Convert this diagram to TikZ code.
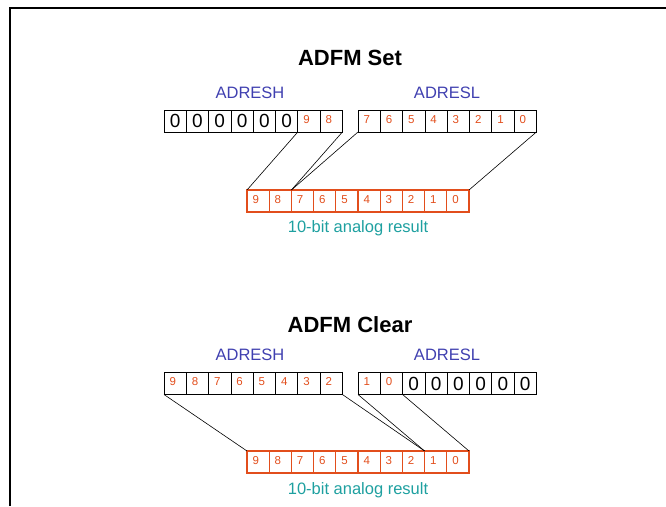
\documentclass[tikz,border=0pt]{standalone}
\usepackage{fontspec}
\setmainfont{Liberation Sans}
\usetikzlibrary{positioning}

\definecolor{regblue}{RGB}{64,64,176}
\definecolor{bitred}{RGB}{226,78,28}
\definecolor{resteal}{RGB}{30,160,160}

\tikzset{
  reg/.style={draw, line width=0.8pt, minimum width=22.3pt, minimum height=22pt,
              inner sep=0pt, outer sep=0pt},
  zerobit/.style={reg, font=\fontsize{19}{19}\selectfont},
  hibit/.style={reg, font=\fontsize{11.5}{11.5}\selectfont, text=bitred, align=left,
                inner xsep=5.5pt, text width=11.3pt, text height=13pt, text depth=9pt},
  resbit/.style={hibit, draw=bitred, line width=1.2pt, minimum width=22.2pt,
                 text width=11.2pt},
  title/.style={font=\fontsize{22}{22}\selectfont\bfseries},
  regname/.style={font=\fontsize{16.5}{16.5}\selectfont, text=regblue},
  caption/.style={font=\fontsize{16.5}{16.5}\selectfont, text=resteal},
  wire/.style={line width=0.6pt}
}

\begin{document}
\begin{tikzpicture}[x=1pt, y=-1pt]
    \useasboundingbox (0,0) rectangle (666,506);
    \draw[line width=1.8pt] (10,506) -- (10,8) -- (666,8);

    % ADFM set
    \node[title] (settitle) at (350,58) {ADFM Set};
    \node[regname] (setnameh) at (250,93) {ADRESH};
    \node[regname] (setnamel) at (447,93) {ADRESL};

    \node[zerobit] (sh1) at (175.15,121) {0};
    \node[zerobit, right=0pt of sh1] (sh2) {0};
    \node[zerobit, right=0pt of sh2] (sh3) {0};
    \node[zerobit, right=0pt of sh3] (sh4) {0};
    \node[zerobit, right=0pt of sh4] (sh5) {0};
    \node[zerobit, right=0pt of sh5] (sh6) {0};
    \node[hibit, right=0pt of sh6] (sh7) {9};
    \node[hibit, right=0pt of sh7] (sh8) {8};

    \node[hibit] (sl1) at (369.15,121) {7};
    \node[hibit, right=0pt of sl1] (sl2) {6};
    \node[hibit, right=0pt of sl2] (sl3) {5};
    \node[hibit, right=0pt of sl3] (sl4) {4};
    \node[hibit, right=0pt of sl4] (sl5) {3};
    \node[hibit, right=0pt of sl5] (sl6) {2};
    \node[hibit, right=0pt of sl6] (sl7) {1};
    \node[hibit, right=0pt of sl7] (sl8) {0};

    \node[resbit] (sr9) at (258.1,201) {9};
    \node[resbit, right=0pt of sr9] (sr8) {8};
    \node[resbit, right=0pt of sr8] (sr7) {7};
    \node[resbit, right=0pt of sr7] (sr6) {6};
    \node[resbit, right=0pt of sr6] (sr5) {5};
    \node[resbit, right=0pt of sr5] (sr4) {4};
    \node[resbit, right=0pt of sr4] (sr3) {3};
    \node[resbit, right=0pt of sr3] (sr2) {2};
    \node[resbit, right=0pt of sr2] (sr1) {1};
    \node[resbit, right=0pt of sr1] (sr0) {0};
    \node[caption] (setcaption) at (358,228) {10-bit analog result};

    \draw[wire] (sh7.south west) -- (sr9.north west);
    \draw[wire] (sh8.south east) -- (sr8.north east);
    \draw[wire] (sl1.south west) -- (sr7.north west);
    \draw[wire] (sl8.south east) -- (sr0.north east);

    % ADFM clear
    \node[title] (clrtitle) at (350,325) {ADFM Clear};
    \node[regname] (clrnameh) at (250,355) {ADRESH};
    \node[regname] (clrnamel) at (447,355) {ADRESL};

    \node[hibit] (ch1) at (175.15,383.5) {9};
    \node[hibit, right=0pt of ch1] (ch2) {8};
    \node[hibit, right=0pt of ch2] (ch3) {7};
    \node[hibit, right=0pt of ch3] (ch4) {6};
    \node[hibit, right=0pt of ch4] (ch5) {5};
    \node[hibit, right=0pt of ch5] (ch6) {4};
    \node[hibit, right=0pt of ch6] (ch7) {3};
    \node[hibit, right=0pt of ch7] (ch8) {2};

    \node[hibit] (cl1) at (369.15,383.5) {1};
    \node[hibit, right=0pt of cl1] (cl2) {0};
    \node[zerobit, right=0pt of cl2] (cl3) {0};
    \node[zerobit, right=0pt of cl3] (cl4) {0};
    \node[zerobit, right=0pt of cl4] (cl5) {0};
    \node[zerobit, right=0pt of cl5] (cl6) {0};
    \node[zerobit, right=0pt of cl6] (cl7) {0};
    \node[zerobit, right=0pt of cl7] (cl8) {0};

    \node[resbit] (cr9) at (258.1,462) {9};
    \node[resbit, right=0pt of cr9] (cr8) {8};
    \node[resbit, right=0pt of cr8] (cr7) {7};
    \node[resbit, right=0pt of cr7] (cr6) {6};
    \node[resbit, right=0pt of cr6] (cr5) {5};
    \node[resbit, right=0pt of cr5] (cr4) {4};
    \node[resbit, right=0pt of cr4] (cr3) {3};
    \node[resbit, right=0pt of cr3] (cr2) {2};
    \node[resbit, right=0pt of cr2] (cr1) {1};
    \node[resbit, right=0pt of cr1] (cr0) {0};
    \node[caption] (clrcaption) at (358,490) {10-bit analog result};

    \draw[wire] (ch1.south west) -- (cr9.north west);
    \draw[wire] (ch8.south east) -- (cr2.north east);
    \draw[wire] (cl1.south west) -- (cr1.north west);
    \draw[wire] (cl2.south east) -- (cr0.north east);
\end{tikzpicture}
\end{document}
